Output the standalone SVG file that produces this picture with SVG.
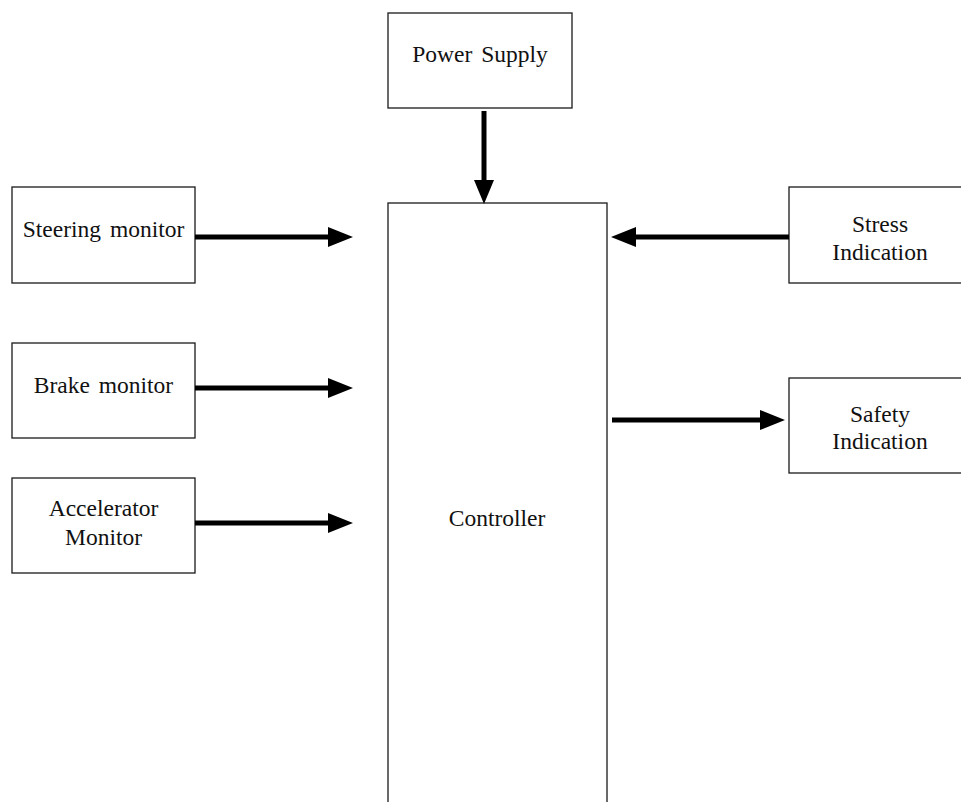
<svg xmlns="http://www.w3.org/2000/svg" width="961" height="802" viewBox="0 0 961 802">
<style>
.box{fill:#fff;stroke:#1a1a1a;stroke-width:1.3}
.t{font-family:"Liberation Serif","Times New Roman",serif;font-size:23.5px;fill:#111;text-anchor:middle;word-spacing:3px}
.ln{stroke:#000;stroke-width:5;fill:none}
.hd{fill:#000}
</style>
<rect width="961" height="802" fill="#fff"/>
<g id="power"><rect class="box" x="388" y="13" width="184" height="95"/><text class="t" x="480" y="62">Power Supply</text></g>
<g id="controller"><rect class="box" x="388" y="203" width="219" height="620"/><text class="t" x="497" y="526">Controller</text></g>
<g id="steering"><rect class="box" x="12" y="187" width="183" height="96"/><text class="t" x="103.5" y="237">Steering monitor</text></g>
<g id="brake"><rect class="box" x="12" y="343" width="183" height="95"/><text class="t" x="103.5" y="393">Brake monitor</text></g>
<g id="accelerator"><rect class="box" x="12" y="478" width="183" height="95"/><text class="t" x="103.5" y="516">Accelerator</text><text class="t" x="103.5" y="545">Monitor</text></g>
<g id="stress"><rect class="box" x="789" y="187" width="183" height="96"/><text class="t" x="880" y="232">Stress</text><text class="t" x="880" y="260">Indication</text></g>
<g id="safety"><rect class="box" x="789" y="378" width="183" height="95"/><text class="t" x="880" y="422">Safety</text><text class="t" x="880" y="449">Indication</text></g>
<g id="connectors">
<line class="ln" x1="484" y1="111" x2="484" y2="182"/><polygon class="hd" points="474,180 494,180 484,204"/>
<line class="ln" x1="195" y1="237" x2="330" y2="237"/><polygon class="hd" points="328,227 353,237 328,247"/>
<line class="ln" x1="195" y1="388" x2="330" y2="388"/><polygon class="hd" points="328,378 353,388 328,398"/>
<line class="ln" x1="195" y1="523" x2="330" y2="523"/><polygon class="hd" points="328,513 353,523 328,533"/>
<line class="ln" x1="789" y1="237" x2="634" y2="237"/><polygon class="hd" points="636,227 611,237 636,247"/>
<line class="ln" x1="612" y1="420" x2="762" y2="420"/><polygon class="hd" points="760,410 785,420 760,430"/>
</g>
</svg>
